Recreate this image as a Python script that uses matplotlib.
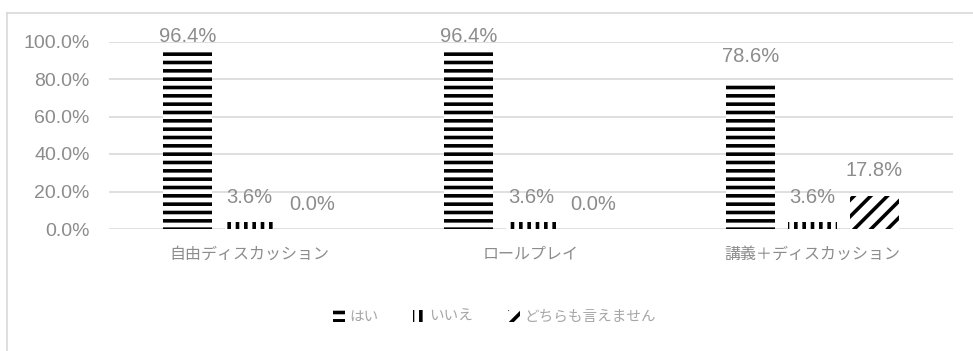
import matplotlib
matplotlib.use("Agg")
import matplotlib.pyplot as plt
from matplotlib.lines import Line2D
import numpy as np

plt.rcParams['font.family'] = ['Liberation Sans', 'Noto Sans CJK JP']
plt.rcParams['hatch.linewidth'] = 2.6

# 授業形式ごとの回答割合
categories = ['自由ディスカッション', 'ロールプレイ', '講義＋ディスカッション']
series_names = ['はい', 'いいえ', 'どちらも言えません']
yes_vals = [0.964, 0.964, 0.786]
no_vals = [0.036, 0.036, 0.036]
neither_vals = [0.0, 0.0, 0.178]
yticks = [0.0, 0.2, 0.4, 0.6, 0.8, 1.0]

W, H = 973, 351
ax_h = 187.5
fig = plt.figure(figsize=(W / 100, H / 100), dpi=100)
ax = fig.add_axes([109 / W, 1 - 229 / H, 844 / W, ax_h / H])

grey = '#8c8c8c'
x = np.arange(len(categories))
width = 0.175
step = 0.221
hatches = ['--', '||', '//']
values = [yes_vals, no_vals, neither_vals]

# ラベルは棒の上 25px、ただしグラフ上端付近で頭打ち
label_gap = 25 / ax_h
label_cap = 1 + 4.5 / ax_h

for i, (name, vals, h) in enumerate(zip(series_names, values, hatches)):
    pos = x + (i - 1) * step
    ax.bar(pos, vals, width, color='white', edgecolor='black',
           linewidth=0, hatch=h, label=name, zorder=2)
    for px, v in zip(pos, vals):
        ax.text(px, min(v + label_gap, label_cap), f'{v * 100:.1f}%',
                ha='center', va='center', fontsize=14.5, color=grey,
                clip_on=False)

ax.set_xlim(-0.5, len(categories) - 0.5)
ax.set_ylim(0, 1.0)
ax.set_yticks(yticks)
ax.set_yticklabels([f'{t * 100:.1f}%' for t in yticks], fontsize=14, color=grey)
ax.set_xticks(x)
ax.set_xticklabels(categories, fontsize=11.5, color='#8c8c8c',
                   family=['Noto Sans CJK JP'])
ax.tick_params(axis='both', length=0)
ax.tick_params(axis='y', pad=14)
ax.tick_params(axis='x', pad=12)
ax.grid(axis='y', color='#d9d9d9', linewidth=1.2, zorder=0)
for s in ax.spines.values():
    s.set_visible(False)

leg = fig.legend(loc='center', bbox_to_anchor=(0.508, 1 - 317 / H), ncol=3,
                 frameon=False, handlelength=0.8, handleheight=0.8,
                 handletextpad=0.3, columnspacing=2.4,
                 prop={'family': ['Noto Sans CJK JP'], 'size': 10.5})
for t in leg.get_texts():
    t.set_color('#a6a6a6')

# 外枠 (上と左)
fig.add_artist(Line2D([6.5 / W, 1], [1 - 12.5 / H] * 2, color='#d9d9d9', lw=1.2))
fig.add_artist(Line2D([6.5 / W] * 2, [0, 1 - 12.5 / H], color='#d9d9d9', lw=1.2))

fig.savefig('out.png', dpi=100)
